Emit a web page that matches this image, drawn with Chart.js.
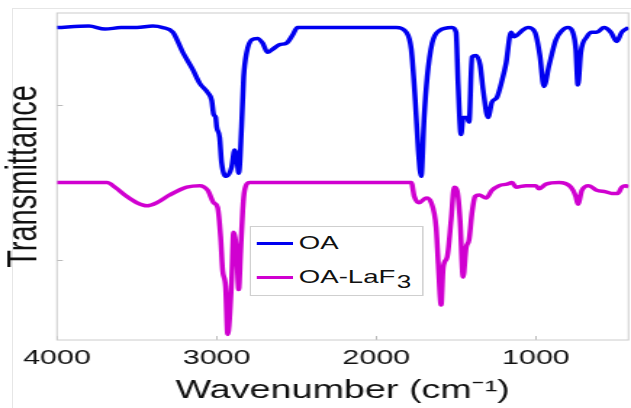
<!DOCTYPE html>
<html>
<head>
<meta charset="utf-8">
<script src="https://cdn.jsdelivr.net/npm/chart.js@4"></script>
<style>
  html, body { margin: 0; padding: 0; background: #fff; overflow: hidden; }
  #frame { position: absolute; left: 12px; top: 8px; width: 640px; height: 420px;
           border-top: 1px solid #e6e6e6; border-left: 1px solid #e6e6e6; }
  /* the original figure is stretched sideways, so the chart is drawn narrow and scaled */
  #wrap { position: absolute; left: 0; top: 0; width: 435px; height: 408px;
          transform: scaleX(1.4506); transform-origin: 0 0; }
  #legend { position: absolute; left: 172px; top: 226px; width: 120px; height: 70px;
            border: 1px solid #cfcfcf; background: #fff; box-sizing: border-box;
            font-family: "Liberation Sans", Arial, sans-serif; font-size: 19px; color: #111; }
  .row { position: absolute; left: 4px; height: 22px; display: flex; align-items: center; }
  .sw { width: 25px; height: 3px; margin-right: 4px; }
  .row sub { font-size: 18px; position: relative; top: 5px; margin-left: 1px; vertical-align: baseline; }
</style>
</head>
<body>
<div id="frame"></div>
<div id="wrap">
  <canvas id="myChart"></canvas>
  <div id="legend"></div>
</div>
<script>
// values (transmittance in arbitrary units, offset traces)
const oaWavenumber = [4000, 3800, 3700, 3600, 3500, 3400, 3337, 3275, 3212, 3150, 3106, 3056, 3031, 3019, 3006, 3000,
  2981, 2969, 2937, 2906, 2887, 2875, 2862, 2844, 2831, 2812, 2781, 2744, 2712, 2681, 2650, 2606, 2562, 2525, 2494,
  2400, 2200, 2000, 1875, 1812, 1781, 1756, 1737, 1719, 1700, 1681, 1650, 1606, 1525, 1500, 1487, 1469, 1456, 1431,
  1419, 1400, 1375, 1350, 1331, 1300, 1275, 1244, 1212, 1187, 1156, 1137, 1119, 1087, 1050, 1006, 975, 950, 919, 875,
  837, 800, 769, 750, 737, 719, 681, 650, 619, 575, 531, 494, 462, 420];
const oaTransmittance = [1.50, 1.51, 1.49, 1.50, 1.50, 1.51, 1.50, 1.47, 1.34, 1.23, 1.14, 1.08, 1.03, 0.94, 0.92, 0.86,
  0.79, 0.63, 0.54, 0.60, 0.71, 0.67, 0.56, 0.86, 1.18, 1.34, 1.42, 1.43, 1.40, 1.34, 1.36, 1.39, 1.40, 1.45, 1.50,
  1.50, 1.50, 1.50, 1.50, 1.47, 1.36, 1.03, 0.71, 0.54, 0.92, 1.18, 1.40, 1.48, 1.50, 1.47, 1.13, 0.81, 0.92, 0.92,
  0.89, 1.31, 1.32, 1.26, 1.10, 0.92, 1.02, 1.05, 1.16, 1.27, 1.47, 1.44, 1.45, 1.48, 1.50, 1.47, 1.32, 1.12, 1.25, 1.42,
  1.48, 1.50, 1.47, 1.36, 1.13, 1.34, 1.44, 1.47, 1.47, 1.50, 1.47, 1.41, 1.47, 1.50];

const laf3Wavenumber = [4000, 3900, 3800, 3687, 3637, 3562, 3500, 3437, 3375, 3294, 3187, 3106, 3056, 3019, 2994, 2975,
  2962, 2944, 2931, 2906, 2894, 2875, 2862, 2850, 2837, 2825, 2794, 2400, 2000, 1781, 1762, 1731, 1687, 1656, 1625,
  1612, 1594, 1581, 1556, 1531, 1512, 1494, 1475, 1456, 1437, 1419, 1400, 1381, 1356, 1312, 1275, 1231, 1181, 1150,
  1125, 1062, 1000, 981, 937, 856, 781, 750, 737, 712, 669, 619, 562, 525, 487, 462, 437, 420];
const laf3Transmittance = [0.50, 0.50, 0.50, 0.50, 0.47, 0.41, 0.37, 0.35, 0.37, 0.42, 0.47, 0.48, 0.45, 0.37, 0.34, 0.15,
  -0.07, -0.17, -0.48, -0.13, 0.18, 0.05, -0.19, 0.05, 0.32, 0.45, 0.50, 0.50, 0.50, 0.50, 0.41, 0.37, 0.40, 0.37, 0.21,
  -0.02, -0.29, -0.05, 0.02, 0.26, 0.47, 0.45, 0.26, -0.11, 0.08, 0.13, 0.31, 0.41, 0.42, 0.40, 0.45, 0.48, 0.49, 0.50,
  0.47, 0.48, 0.48, 0.46, 0.49, 0.50, 0.47, 0.41, 0.36, 0.45, 0.48, 0.45, 0.44, 0.43, 0.43, 0.47, 0.48, 0.47];

const seriesNames = ['OA', 'OA-LaF3'];
const seriesColors = ['#0000f0', '#d000d0'];
const xTickValues = [4000, 3000, 2000, 1000];
const yTickValues = [0, 1];

const font = '"Liberation Sans", Arial, sans-serif';

function toPoints(xs, ys) {
  return xs.map((x, i) => ({ x: x, y: ys[i] }));
}

// light box around the plot, like the original
const boxPlugin = {
  id: 'box',
  beforeDatasetsDraw(chart) {
    const a = chart.chartArea;
    const ctx = chart.ctx;
    ctx.save();
    ctx.strokeStyle = '#cccccc';
    ctx.lineWidth = 1;
    ctx.strokeRect(a.left, a.top, a.right - a.left, a.bottom - a.top);
    ctx.restore();
  }
};

// html legend so the subscript can be real text
const htmlLegend = {
  id: 'htmlLegend',
  afterUpdate(chart) {
    const box = document.getElementById('legend');
    box.innerHTML = '';
    chart.data.datasets.forEach((ds, i) => {
      const row = document.createElement('div');
      row.className = 'row';
      row.style.top = (i === 0 ? 5 : 39) + 'px';
      const sw = document.createElement('span');
      sw.className = 'sw';
      sw.style.background = ds.borderColor;
      const txt = document.createElement('span');
      txt.innerHTML = ds.label.replace(/(\d+)$/, '<sub>$1</sub>');
      row.appendChild(sw);
      row.appendChild(txt);
      box.appendChild(row);
    });
  }
};

const ctx = document.getElementById('myChart').getContext('2d');

new Chart(ctx, {
  type: 'line',
  data: {
    datasets: [
      {
        label: seriesNames[0],
        data: toPoints(oaWavenumber, oaTransmittance),
        borderColor: seriesColors[0],
        borderWidth: 3.5,
        pointRadius: 0,
        cubicInterpolationMode: 'monotone'
      },
      {
        label: seriesNames[1],
        data: toPoints(laf3Wavenumber, laf3Transmittance),
        borderColor: seriesColors[1],
        borderWidth: 3.5,
        pointRadius: 0,
        cubicInterpolationMode: 'monotone'
      }
    ]
  },
  options: {
    responsive: true,
    maintainAspectRatio: false,
    animation: false,
    layout: { padding: { top: 13, right: 1, left: 0, bottom: 0 } },
    plugins: {
      legend: { display: false },
      tooltip: { enabled: false }
    },
    scales: {
      x: {
        type: 'linear',
        reverse: true,
        min: 420,
        max: 4000,
        afterBuildTicks: (scale) => { scale.ticks = xTickValues.map(v => ({ value: v })); },
        afterFit: (scale) => { scale.height = 68; },
        border: { display: false },
        grid: { drawOnChartArea: false, tickLength: -4, color: '#bbbbbb' },
        ticks: {
          color: '#111',
          padding: 10,
          maxRotation: 0,
          font: { family: font, size: 21 },
          callback: (v) => String(v)
        },
        title: {
          display: true,
          text: 'Wavenumber (cm\u207B\u00B9)',
          color: '#111',
          padding: { top: 0, bottom: 2 },
          font: { family: font, size: 26 }
        }
      },
      y: {
        min: -0.516,
        max: 1.594,
        afterBuildTicks: (scale) => { scale.ticks = yTickValues.map(v => ({ value: v })); },
        afterFit: (scale) => { scale.width = 39.3; },
        border: { display: false },
        grid: { drawOnChartArea: false, tickLength: -4, color: '#bbbbbb' },
        ticks: { display: false },
        title: {
          display: true,
          text: 'Transmittance',
          color: '#111',
          padding: { top: 0, bottom: 0 },
          font: { family: font, size: 29 }
        }
      }
    }
  },
  plugins: [boxPlugin, htmlLegend]
});
</script>
</body>
</html>
